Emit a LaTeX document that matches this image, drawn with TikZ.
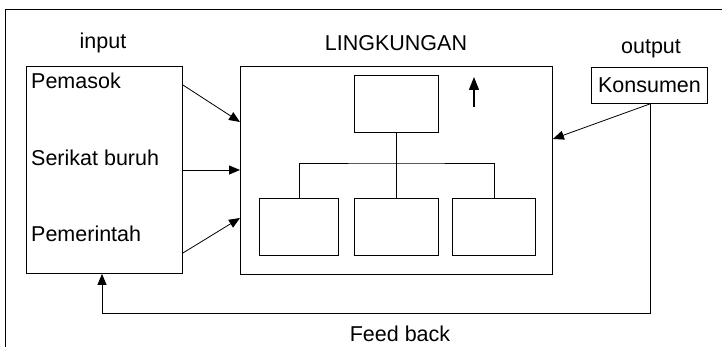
\documentclass[tikz,border=0pt]{standalone}
\usepackage{fontspec}
\setmainfont{Liberation Sans}
\usetikzlibrary{calc,arrows.meta}
\begin{document}
\begin{tikzpicture}[x=1pt,y=-1pt,
  txt/.style={font=\fontsize{21.5}{25}\selectfont, inner sep=0pt, anchor=base},
  box/.style={draw, line width=0.9pt, inner sep=0pt, anchor=north west},
  conn/.style={line width=0.8pt},
  arr/.style={conn, -{Triangle[length=11pt,width=9pt]}}]
  \useasboundingbox (0,0) rectangle (722,347);

  % open outer frame
  \draw[line width=0.9pt] (5,347) -- (5,9) -- (722,9);

  % headings
  \node[txt] (tin)  at (103,49)  {input};
  \node[txt] (tenv) at (396,51)  {LINGKUNGAN};
  \node[txt] (tout) at (651,54)  {output};
  \node[txt] (tfb)  at (400,341) {Feed back};

  % input box with its three sources
  \node[box, minimum width=156pt, minimum height=207pt] (inbox) at (26,66) {};
  \node[txt, anchor=base west] (pem) at (31,89)  {Pemasok};
  \node[txt, anchor=base west] (ser) at (31,166) {Serikat buruh};
  \node[txt, anchor=base west] (pmr) at (31,241) {Pemerintah};

  % environment box with organisation chart
  \node[box, minimum width=312pt, minimum height=208pt] (env) at (240,66) {};
  \node[box, minimum width=84pt, minimum height=57pt] (top) at (354,75) {};
  \node[box, minimum width=79pt, minimum height=57pt] (ba) at (259,198) {};
  \node[box, minimum width=84pt, minimum height=57pt] (bb) at (354,198) {};
  \node[box, minimum width=83pt, minimum height=57pt] (bc) at (452,198) {};
  \coordinate (bar) at (396,163);
  \draw[conn] (top.south) -- (bb.north);
  \draw[conn] (ba.north) |- (bar) -| (bc.north);

  % upward arrow inside the environment
  \coordinate (upa) at (474,107);
  \coordinate (upb) at (474,77);
  \draw[conn, line width=1.2pt, -{Triangle[length=13pt,width=10pt]}] (upa) -- (upb);

  % output box
  \node[box, minimum width=116pt, minimum height=36pt] (kon) at (591,67) {};
  \node[txt] (tkon) at (kon.center |- 0,93) {Konsumen};

  % input arrows into the environment
  \draw[arr] ($(inbox.north east)+(0,19)$) -- ($(env.north west)+(0,56)$);
  \draw[arr] ($(inbox.north east)+(0,104)$) -- ($(env.north west)+(0,104)$);
  \draw[arr] ($(inbox.north east)+(0,187)$) -- ($(env.north west)+(0,152)$);

  % consumer back into the environment
  \coordinate (kout) at ($(kon.south west)+(59,0)$);
  \draw[arr] (kout) -- ($(env.north east)+(0,73)$);

  % feedback loop
  \coordinate (fbr) at ($(kout)+(0,209)$);
  \draw[arr] (kout) -- (fbr) -| ($(inbox.south west)+(76,0)$);
\end{tikzpicture}
\end{document}
